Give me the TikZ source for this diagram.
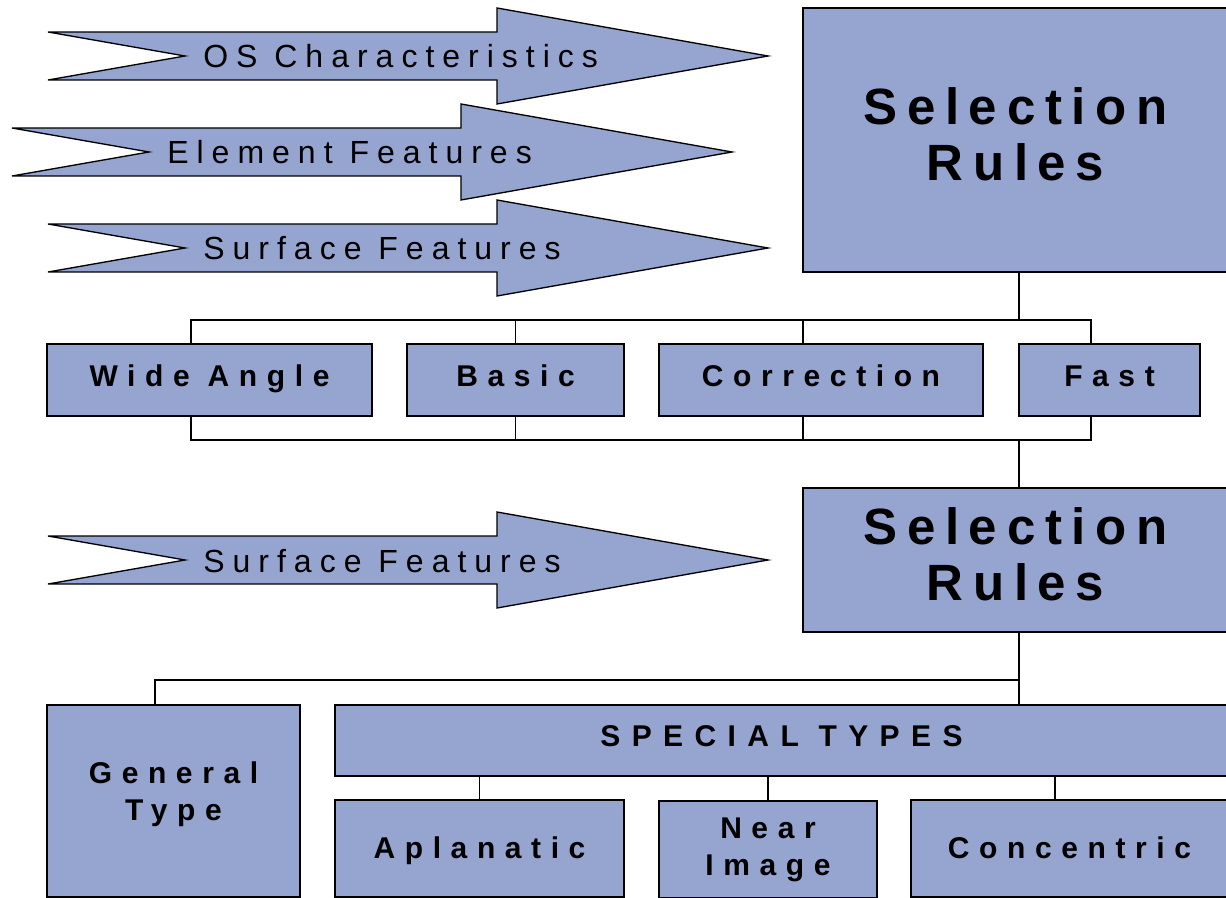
\documentclass[tikz,border=0pt]{standalone}
\usepackage{fontspec}
\setmainfont{Liberation Sans}
\newfontfamily\arrowfont{Liberation Sans}[LetterSpace=25]
\newfontfamily\boxfont{Liberation Sans}[LetterSpace=32]
\newfontfamily\rulefont{Liberation Sans}[LetterSpace=19]
\usepackage{xcolor}
\definecolor{rulefill}{RGB}{150,165,208}

\begin{document}
\begin{tikzpicture}[
    x=0.75pt, y=-0.75pt,
    box/.style={rectangle, draw, line width=1.3pt, fill=rulefill,
                inner sep=0pt, outer sep=0pt, align=center,
                font=\boxfont\bfseries\fontsize{22.5}{27.75}\selectfont},
    toprow/.style={box, minimum height=54pt, text height=15pt, text depth=6pt},
    lowrow/.style={box, minimum height=72.75pt},
    rules/.style={box, minimum width=318.75pt, text depth=9pt,
                  font=\rulefont\bfseries\fontsize{38.25}{42}\selectfont},
    flag/.style={draw, line width=1pt, fill=rulefill},
    flagtext/.style={anchor=base west, inner sep=0pt,
                     font=\arrowfont\fontsize{24}{28}\selectfont},
    conn/.style={line width=1pt}
]
\useasboundingbox (0,0) rectangle (1226,898);

% Input arrows
\foreach \nm/\xl/\yc/\txt in {os/48/56/OS Characteristics,
    elem/12/152/Element Features, surf/48/248/Surface Features,
    surftwo/48/560/Surface Features}{
  \draw[flag] (\xl,\yc-24) -- (\xl+449,\yc-24) -- (\xl+449,\yc-48)
    -- (\xl+720,\yc) -- (\xl+449,\yc+48) -- (\xl+449,\yc+24)
    -- (\xl,\yc+24) -- (\xl+137,\yc) -- cycle;
  \node[flagtext] (\nm) at (\xl+155,\yc+12) {\txt};
}

% Upper rule block
\node[rules, minimum height=198pt] (selone) at (1015.5,140) {Selection\\Rules};

\node[toprow, minimum width=243.75pt] (wide) at (209.5,380) {Wide Angle};
\node[toprow, minimum width=162.75pt] (basic) at (515.5,380) {Basic};
\node[toprow, minimum width=243pt] (corr) at (821,380) {Correction};
\node[toprow, minimum width=135.75pt] (fast) at (1109.5,380) {Fast};

\coordinate (ts) at (1019,0);
\coordinate (tw) at (191,0);
\coordinate (tc) at (803,0);
\coordinate (tf) at (1091,0);

\draw[conn] (selone.south -| ts) -- ++(0,48);
\draw[conn] (wide.north -| tw) -- ++(0,-24) -| (fast.north -| tf);
\draw[conn] (basic.north) -- ++(0,-24);
\draw[conn] (corr.north -| tc) -- ++(0,-24);
\draw[conn] (wide.south -| tw) -- ++(0,24) -| (fast.south -| tf);
\draw[conn] (basic.south) -- ++(0,24);
\draw[conn] (corr.south -| tc) -- ++(0,24);

% Lower rule block
\node[rules, minimum height=108pt] (seltwo) at (1015.5,560) {Selection\\Rules};
\draw[conn] (seltwo.north -| ts) -- ++(0,-48);

\node[box, minimum width=189.75pt, minimum height=144pt, text depth=15pt] (general) at (173.5,801) {General\\Type};
\node[box, minimum width=669.75pt, minimum height=53.25pt, text height=15pt, text depth=6pt] (special) at (781.5,740.5)
    {\addfontfeatures{LetterSpace=38}SPECIAL TYPES};
\node[lowrow, minimum width=216.75pt, text height=16.5pt, text depth=2.25pt] (aplan) at (479.5,848.5) {Aplanatic};
\node[lowrow, minimum width=163.5pt] (near) at (768,849.5) {Near\\Image};
\node[lowrow, minimum width=237.75pt, text height=16.5pt, text depth=2.25pt] (conc) at (1069.5,848.5) {Concentric};

\coordinate (tg) at (155,0);
\coordinate (tk) at (1055,0);

\draw[conn] (seltwo.south -| ts) -- (ts |- special.north);
\draw[conn] (general.north -| tg) -- ++(0,-25) -| (seltwo.south -| ts);
\draw[conn] (aplan.north) -- (aplan.north |- special.south);
\draw[conn] (near.north) -- (near.north |- special.south);
\draw[conn] (conc.north -| tk) -- (tk |- special.south);

\end{tikzpicture}
\end{document}
